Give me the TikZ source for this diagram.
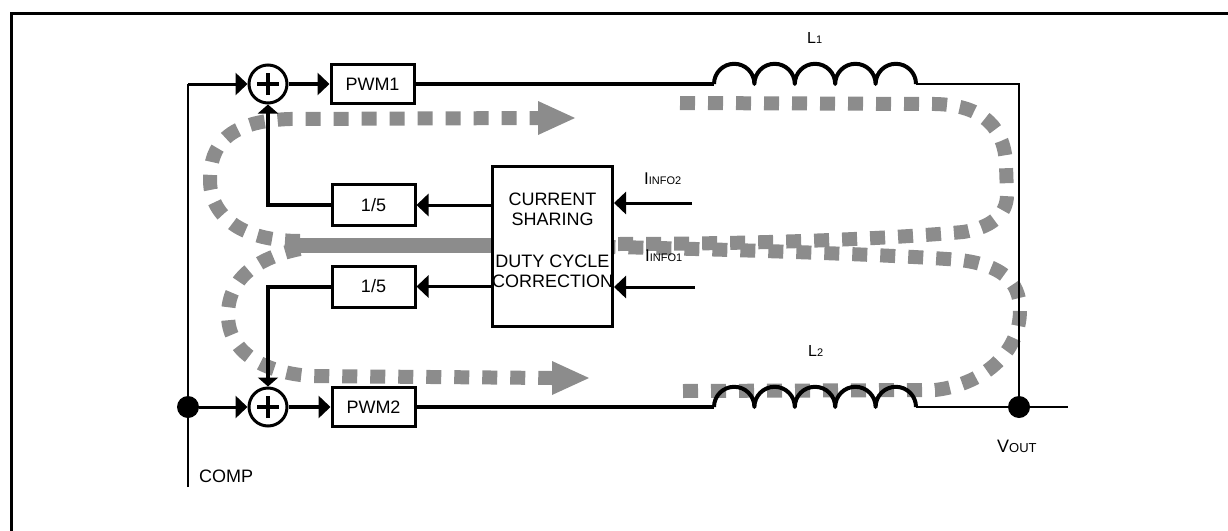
\documentclass[tikz,border=0pt]{standalone}
\usepackage{fontspec}
\setmainfont{Liberation Sans}
\usetikzlibrary{arrows.meta}
\definecolor{flowc}{RGB}{140,140,140}
\begin{document}
\begin{tikzpicture}[x=1pt,y=-1pt,
  box/.style={draw,line width=3pt,inner sep=0,font=\fontsize{18}{20}\selectfont,minimum width=83pt,minimum height=39pt},
  sumc/.style={draw,circle,line width=3pt,minimum size=38pt,inner sep=0},
  wire/.style={line width=3pt},
  wthick/.style={line width=4pt},
  wthin/.style={line width=2.5pt},
  coil/.style={line width=4pt,line join=round},
  tipR/.style={-{Triangle[length=12pt,width=22pt]}},
  tipV/.style={-{Triangle[length=9pt,width=20pt]}},
  flow/.style={line width=14pt,draw=flowc,dash pattern=on 15pt off 13pt},
  lab/.style={inner sep=0,anchor=base west},
  dotc/.style={circle,fill,minimum size=22pt,inner sep=0}
]
\useasboundingbox (0,0) rectangle (1228,530);
% frame (only top and left edges visible)
\draw[line width=3pt] (11,540) -- (11,13) -- (1240,13);

% ---- flow paths (hatched) ----
\draw[line width=15pt,flowc] (298,245) -- (491,245);
\draw[flow] (300,241) .. controls (240,241) and (210,215) .. (210,180)
  .. controls (210,145) and (228,121) .. (290,119) -- (538,118);
\fill[flowc] (538,101) -- (575,118) -- (538,135) -- cycle;
\draw[flow] (680,103) -- (935,104) .. controls (985,105) and (1005,130) .. (1006,165)
  -- (1007,195) .. controls (1007,215) and (990,228) .. (963,232)
  .. controls (850,242) and (700,244) .. (614,244);
\draw[flow] (300,249) .. controls (255,258) and (228,280) .. (228,315)
  .. controls (228,350) and (260,372) .. (310,376) -- (552,378);
\fill[flowc] (552,361) -- (589,378) -- (552,395) -- cycle;
\draw[flow] (683,391) -- (935,390) .. controls (980,385) and (1020,355) .. (1020,310)
  .. controls (1020,280) and (1000,265) .. (960,260)
  .. controls (900,255) and (750,250) .. (614,247);

% ---- nodes ----
\node[box] (pwm1) at (372.5,84) {PWM1};
\node[box] (pwm2) at (373.5,407) {PWM2};
\node[box,minimum height=41pt] (d1) at (373.5,205) {1/5};
\node[box,minimum height=41pt] (d2) at (373.5,286.5) {1/5};
\node[sumc] (s1) at (268,84) {};
\node[sumc] (s2) at (268,407) {};
\node[draw,line width=3pt,minimum width=120pt,minimum height=160pt,inner sep=0] (cs) at (552.5,246.5) {};
\node[inner sep=0,anchor=north,align=center,font=\fontsize{18}{20}\selectfont] (cst) at (552.5,192.5)
  {CURRENT\\SHARING\\[22pt]DUTY CYCLE\\CORRECTION};
\node[dotc] (j1) at (188,407) {};
\node[dotc] (vo) at (1019,407) {};

\coordinate (ltop) at (188,84);
\coordinate (lbot) at (188,487);
\coordinate (fb1) at (268,205);
\coordinate (fb2) at (268,286.5);
\coordinate (l1a) at (714,84);
\coordinate (l1b) at (916,84);
\coordinate (l2a) at (714,407);
\coordinate (l2b) at (916,407);
\coordinate (rtop) at (1019,84);
\coordinate (vend) at (1068,407);
\coordinate (in2) at (692,203);
\coordinate (in1) at (695,287);

% plus signs
\foreach \s in {s1,s2}{
  \draw[line width=3.5pt] ([xshift=-11pt]\s.center) -- ([xshift=11pt]\s.center)
    ([yshift=-11pt]\s.center) -- ([yshift=11pt]\s.center);
}

% ---- wires ----
\draw[wthin] (lbot) -- (ltop);
\draw[wire,tipR] (ltop) -- (s1);
\draw[wire,tipR] (j1) -- (s2);
\draw[wthick,tipR] (s1) -- (pwm1);
\draw[wthick,tipR] (s2) -- (pwm2);
\draw[wthick] (pwm1) -- (l1a);
\draw[coil] (l1a) arc[start angle=180,end angle=360,radius=20.2]
  arc[start angle=180,end angle=360,radius=20.2]
  arc[start angle=180,end angle=360,radius=20.2]
  arc[start angle=180,end angle=360,radius=20.2]
  arc[start angle=180,end angle=360,radius=20.2];
\draw[wthin] (l1b) -- (rtop) -- (vo);
\draw[wthick] (pwm2) -- (l2a);
\draw[coil] (l2a) arc[start angle=180,end angle=360,radius=20.2]
  arc[start angle=180,end angle=360,radius=20.2]
  arc[start angle=180,end angle=360,radius=20.2]
  arc[start angle=180,end angle=360,radius=20.2]
  arc[start angle=180,end angle=360,radius=20.2];
\draw[wthin] (l2b) -- (vo);
\draw[wthin] (vo) -- (vend);
\draw[wthick,tipV] (d1.west) -- (fb1) -- (s1.south);
\draw[wthick,tipV] (d2.west) -- (fb2) -- (s2.north);
\draw[wire,tipR] (cs.west |- d1) -- (d1.east);
\draw[wire,tipR] (cs.west |- d2) -- (d2.east);
\draw[wire,tipR] (in2) -- (in2 -| cs.east);
\draw[wire,tipR] (in1) -- (in1 -| cs.east);

% ---- labels ----
\node[lab,font=\fontsize{16}{16}\selectfont] (lab1) at (807,43) {L{\fontsize{11}{11}\selectfont 1}};
\node[lab,font=\fontsize{16}{16}\selectfont] (lab2) at (808,356) {L{\fontsize{11}{11}\selectfont 2}};
\node[lab] (ii2) at (644,184) {{\fontsize{17}{17}\selectfont I}{\fontsize{11}{11}\selectfont INFO2}};
\node[lab] (ii1) at (645,261) {{\fontsize{17}{17}\selectfont I}{\fontsize{11}{11}\selectfont INFO1}};
\node[lab] (vl) at (997,452) {{\fontsize{18}{18}\selectfont V}{\fontsize{13}{13}\selectfont OUT}};
\node[lab,font=\fontsize{18}{18}\selectfont] (comp) at (199,482) {COMP};
\end{tikzpicture}
\end{document}
